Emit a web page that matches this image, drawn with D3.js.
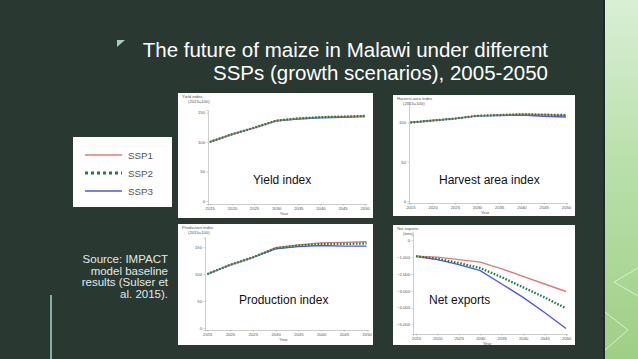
<!DOCTYPE html>
<html>
<head>
<meta charset="utf-8">
<script src="https://cdn.jsdelivr.net/npm/d3@7"></script>
<style>
  body { margin: 0; background: #293831; }
  svg { display: block; font-family: "Liberation Sans", Arial, sans-serif; }
</style>
</head>
<body>
<div id="chart"></div>
<script>
// --- data ---
var years = [2015, 2020, 2025, 2030, 2035, 2040, 2045, 2050];
var scenarios = ["SSP1", "SSP2", "SSP3"];

var yieldSSP1 = [100, 113, 124, 136, 140, 142, 143, 144];
var yieldSSP2 = [100, 113, 124, 136, 140, 142, 143, 144];
var yieldSSP3 = [100, 113, 124, 136, 139, 141, 142, 143];

var areaSSP1 = [100, 102.5, 105, 108.5, 109.5, 110.5, 110, 109];
var areaSSP2 = [100, 102.5, 105, 108.5, 109.5, 110.5, 110, 109.5];
var areaSSP3 = [100, 102.5, 105, 108.5, 109, 109.5, 108, 107];

var prodSSP1 = [100, 117, 131, 149, 154, 158, 159, 160];
var prodSSP2 = [100, 117, 131, 148, 153, 156, 156, 157];
var prodSSP3 = [100, 117, 131, 147, 151, 153, 152, 152];

var netSSP1 = [-950, -1000, -1150, -1300, -1700, -2150, -2600, -3050];
var netSSP2 = [-950, -1100, -1350, -1650, -2200, -2800, -3400, -4050];
var netSSP3 = [-950, -1150, -1450, -1800, -2600, -3400, -4300, -5250];

var yieldTicks = [0, 50, 100, 150];
var areaTicks = [0, 50, 100];
var prodTicks = [0, 50, 100, 150];
var netTicks = [0, -1000, -2000, -3000, -4000, -5000];

var titleLines = ["The future of maize in Malawi under different", "SSPs (growth scenarios), 2005-2050"];
var sourceLines = ["Source: IMPACT", "model baseline", "results (Sulser et", "al. 2015)."];

// --- styles ---
var colors = { SSP1: "#d77b7b", SSP2: "#1f7d45", SSP3: "#5557d6" };
var widths = { SSP1: 1.4, SSP2: 2.3, SSP3: 1.4 };
var dashes = { SSP1: null, SSP2: "1.6,1.6", SSP3: null };

var W = 638, H = 359;
var svg = d3.select("#chart").append("svg").attr("width", W).attr("height", H);

svg.append("rect").attr("width", W).attr("height", H).attr("fill", "#293831");

// right decorative strip
var defs = svg.append("defs");
var grad = defs.append("linearGradient").attr("id", "strip").attr("x1", 0).attr("y1", 0).attr("x2", 0).attr("y2", 1);
grad.append("stop").attr("offset", "0%").attr("stop-color", "#d9efd4");
grad.append("stop").attr("offset", "45%").attr("stop-color", "#b9e0ab");
grad.append("stop").attr("offset", "100%").attr("stop-color", "#9fcf86");
svg.append("rect").attr("x", 603).attr("y", 0).attr("width", 2).attr("height", H).attr("fill", "#1f2b26");
svg.append("rect").attr("x", 605).attr("y", 0).attr("width", 33).attr("height", H).attr("fill", "url(#strip)");
svg.append("path").attr("d", "M638,268 L614,282 L638,296").attr("fill", "none").attr("stroke", "#e8f5e0").attr("stroke-width", 0.8);
svg.append("path").attr("d", "M605,312 L628,330 L605,350").attr("fill", "none").attr("stroke", "#e8f5e0").attr("stroke-width", 0.8);

// thin line bottom-left
svg.append("rect").attr("x", 50).attr("y", 295).attr("width", 2).attr("height", 64).attr("fill", "#86aea6");

// title
svg.append("path").attr("d", "M117,40 L125,40 L117,47 Z").attr("fill", "#a6cbc2");
svg.selectAll("text.title").data(titleLines).enter().append("text")
  .attr("class", "title")
  .attr("x", 548).attr("y", function (d, i) { return 57 + i * 23; })
  .attr("text-anchor", "end")
  .attr("fill", "#ffffff")
  .style("font-size", "20.5px")
  .text(function (d) { return d; });

// source
svg.selectAll("text.src").data(sourceLines).enter().append("text")
  .attr("class", "src")
  .attr("x", 168).attr("y", function (d, i) { return 263 + i * 11.7; })
  .attr("text-anchor", "end")
  .attr("fill", "#e4e8e6")
  .style("font-size", "11.5px")
  .text(function (d) { return d; });

// legend
var lg = svg.append("g");
lg.append("rect").attr("x", 73).attr("y", 137).attr("width", 99).attr("height", 70).attr("fill", "#ffffff");
lg.append("line").attr("x1", 80).attr("x2", 166).attr("y1", 146).attr("y2", 146).attr("stroke", "#eeeeee").attr("stroke-width", 0.6);
var legY = d3.scalePoint().domain(scenarios).range([155, 191]);
scenarios.forEach(function (s) {
  lg.append("line").attr("x1", 85).attr("x2", 122)
    .attr("y1", legY(s)).attr("y2", legY(s))
    .attr("stroke", colors[s])
    .attr("stroke-width", s === "SSP2" ? 3 : 1.3)
    .attr("stroke-dasharray", s === "SSP2" ? "3,3" : null);
  lg.append("text").attr("x", 128).attr("y", legY(s) + 3.5)
    .attr("fill", "#555").style("font-size", "9.8px").text(s);
});

// panels
var panels = [
  { name: "Yield index", sub: "(2015=100)", box: [178, 93, 195, 125],
    xDom: [2014.6, 2050.3], xRange: [208, 366], yDom: [-5, 154], yRange: [204, 110.1],
    ticks: yieldTicks, fmt: d3.format("d"),
    series: { SSP1: yieldSSP1, SSP2: yieldSSP2, SSP3: yieldSSP3 },
    label: [253, 184] },
  { name: "Harvest area index", sub: "(2015=100)", box: [393, 95, 182, 121],
    xDom: [2014.7, 2050.3], xRange: [409, 567.3], yDom: [-2.5, 126], yRange: [203, 102.1],
    ticks: areaTicks, fmt: d3.format("d"),
    series: { SSP1: areaSSP1, SSP2: areaSSP2, SSP3: areaSSP3 },
    label: [439, 184] },
  { name: "Production index", sub: "(2015=100)", box: [178, 224, 195, 121],
    xDom: [2014.5, 2050.3], xRange: [205, 368], yDom: [-4, 168], yRange: [330, 237.5],
    ticks: prodTicks, fmt: d3.format("d"),
    series: { SSP1: prodSSP1, SSP2: prodSSP2, SSP3: prodSSP3 },
    label: [239, 304] },
  { name: "Net exports", sub: "(tons)", box: [393, 225, 182, 120],
    xDom: [2014.3, 2050.3], xRange: [413, 567.3], yDom: [-5580, 300], yRange: [334, 235.3],
    ticks: netTicks, fmt: d3.format(",d"),
    series: { SSP1: netSSP1, SSP2: netSSP2, SSP3: netSSP3 },
    label: [429, 304] }
];

panels.forEach(function (p) {
  var g = svg.append("g");
  g.append("rect").attr("x", p.box[0]).attr("y", p.box[1])
    .attr("width", p.box[2]).attr("height", p.box[3]).attr("fill", "#ffffff");

  var x = d3.scaleLinear().domain(p.xDom).range(p.xRange);
  var y = d3.scaleLinear().domain(p.yDom).range(p.yRange);

  var ax = g.append("g").attr("transform", "translate(0," + p.yRange[0] + ")")
    .call(d3.axisBottom(x).tickValues(years).tickFormat(d3.format("d")).tickSize(1.5).tickPadding(1.5));
  var ay = g.append("g").attr("transform", "translate(" + p.xRange[0] + ",0)")
    .call(d3.axisLeft(y).tickValues(p.ticks).tickFormat(p.fmt).tickSize(1.5).tickPadding(1.5));
  [ax, ay].forEach(function (a) {
    a.selectAll("path,line").attr("stroke", "#9a9a9a").attr("stroke-width", 0.5);
    a.selectAll("text").attr("fill", "#555").style("font-size", "4.2px").style("font-family", "Liberation Sans, Arial, sans-serif");
  });

  g.append("text").attr("x", (p.xRange[0] + p.xRange[1]) / 2 - 3).attr("y", p.yRange[0] + 11)
    .attr("text-anchor", "middle").attr("fill", "#555").style("font-size", "4.2px").text("Year");
  g.append("text").attr("x", p.box[0] + 4).attr("y", p.box[1] + 5)
    .attr("fill", "#555").style("font-size", "4.2px").text(p.name);
  g.append("text").attr("x", p.box[0] + 10).attr("y", p.box[1] + 9.5)
    .attr("fill", "#555").style("font-size", "4.2px").text(p.sub);

  var line = d3.line().x(function (d, i) { return x(years[i]); }).y(function (d) { return y(d); });
  ["SSP3", "SSP1", "SSP2"].forEach(function (s) {
    g.append("path").datum(p.series[s])
      .attr("d", line)
      .attr("fill", "none")
      .attr("stroke", colors[s])
      .attr("stroke-width", widths[s])
      .attr("stroke-dasharray", dashes[s]);
  });

  g.append("text").attr("x", p.label[0]).attr("y", p.label[1])
    .attr("fill", "#111").style("font-size", "12px").text(p.name);
});
</script>
</body>
</html>
